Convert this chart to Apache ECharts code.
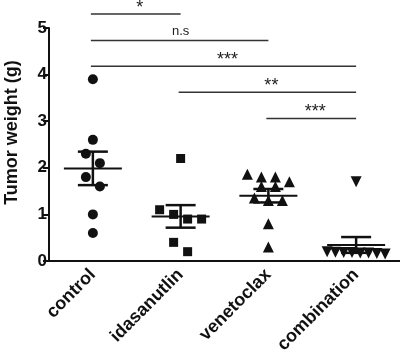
<!DOCTYPE html>
<html>
<head>
<meta charset="utf-8">
<script src="https://cdn.jsdelivr.net/npm/echarts@6/dist/echarts.min.js"></script>
<style>
  html, body { margin: 0; padding: 0; background: #fff; }
  #main { width: 400px; height: 356px; }
</style>
</head>
<body>
<div id="main"></div>
<script>
// groups on the x axis
const groups = ["control", "idasanutlin", "venetoclax", "combination"];

// tumor weight per mouse (g)
const control = [3.9, 2.6, 2.3, 2.1, 1.8, 1.6, 1.0, 0.6];
const idasanutlin = [2.2, 1.1, 1.0, 0.9, 0.9, 0.4, 0.2];
const venetoclax = [1.86, 1.8, 1.8, 1.7, 1.6, 1.6, 1.35, 1.3, 1.3, 0.8, 0.3];
const combination = [1.7, 0.2, 0.19, 0.18, 0.18, 0.17, 0.17, 0.16, 0.15];

const yTicks = [0, 1, 2, 3, 4, 5];

// significance brackets (from group, to group, height in g, label)
const sigFrom = [0, 0, 0, 1, 2];
const sigTo = [1, 2, 3, 3, 3];
const sigLevel = [5.3, 4.73, 4.18, 3.62, 3.06];
const sigLabel = ["*", "n.s", "***", "**", "***"];

const allGroups = [control, idasanutlin, venetoclax, combination];
const symbols = ["circle", "rect", "triangle", "triangle"];
const symbolSizes = [10, 9, 11, 11];
const symbolRotates = [0, 0, 0, 180];

const FONT = "Liberation Sans, Arial, sans-serif";

function mean(a) {
  return a.reduce((s, v) => s + v, 0) / a.length;
}
function sem(a) {
  const m = mean(a);
  const sd = Math.sqrt(a.reduce((s, v) => s + (v - m) * (v - m), 0) / (a.length - 1));
  return sd / Math.sqrt(a.length);
}

const statsData = allGroups.map((g, i) => [i, mean(g), sem(g)]);
const sigData = sigFrom.map((f, i) => [f, sigTo[i], sigLevel[i]]);

// mean line + SEM whiskers
function renderStats(params, api) {
  const i = api.value(0), m = api.value(1), s = api.value(2);
  const c = api.coord([i, m]);
  const hi = api.coord([i, m + s]);
  const lo = api.coord([i, m - s]);
  const st = { stroke: "#111", lineWidth: 2.5 };
  return {
    type: "group",
    children: [
      { type: "line", shape: { x1: c[0] - 29, y1: c[1], x2: c[0] + 29, y2: c[1] }, style: { stroke: "#111", lineWidth: 2 } },
      { type: "line", shape: { x1: c[0] - 15, y1: hi[1], x2: c[0] + 15, y2: hi[1] }, style: st },
      { type: "line", shape: { x1: c[0] - 15, y1: lo[1], x2: c[0] + 15, y2: lo[1] }, style: st },
      { type: "line", shape: { x1: c[0], y1: hi[1], x2: c[0], y2: lo[1] }, style: st }
    ]
  };
}

// significance bracket lines with label
function renderSig(params, api) {
  const a = api.coord([api.value(0), api.value(2)]);
  const b = api.coord([api.value(1), api.value(2)]);
  const label = sigLabel[params.dataIndex];
  const stars = label.indexOf("*") >= 0;
  return {
    type: "group",
    children: [
      { type: "line", shape: { x1: a[0] - 2, y1: a[1], x2: b[0], y2: b[1] }, style: { stroke: "#333", lineWidth: 1.5 } },
      {
        type: "text",
        x: (a[0] + b[0]) / 2 + (stars ? 3 : 0),
        y: a[1] + (stars ? 3 : -3),
        style: {
          text: label, fill: "#222",
          font: (stars ? "18px " : "13px ") + FONT,
          align: "center", verticalAlign: "bottom"
        }
      }
    ]
  };
}

function scatterSeries(offsets) {
  return allGroups.map((g, gi) => ({
    type: "scatter",
    symbol: symbols[gi],
    symbolSize: symbolSizes[gi],
    symbolRotate: symbolRotates[gi],
    itemStyle: { color: "#111", opacity: 1 },
    data: g.map((v, k) => ({
      value: [gi, v],
      symbolOffset: [offsets ? offsets[gi][k] : 0, 0]
    }))
  }));
}

const chart = echarts.init(document.getElementById("main"));

const option = {
  animation: false,
  backgroundColor: "#fff",
  grid: { left: 49, right: 0, top: 28, bottom: 95, outerBoundsMode: "none", containLabel: false },
  xAxis: {
    type: "category",
    data: groups,
    boundaryGap: true,
    axisLine: { lineStyle: { color: "#111", width: 2 } },
    axisTick: { alignWithLabel: true, length: 6, lineStyle: { color: "#111", width: 2 } },
    axisLabel: { rotate: 45, interval: 0, margin: 11, color: "#111", fontWeight: "bold", fontSize: 18, fontFamily: FONT }
  },
  yAxis: {
    type: "value",
    min: yTicks[0],
    max: yTicks[yTicks.length - 1],
    interval: 1,
    name: "Tumor weight (g)",
    nameLocation: "middle",
    nameGap: 28,
    nameTextStyle: { color: "#111", fontWeight: "bold", fontSize: 18, fontFamily: FONT, padding: [0, 0, 0, 24] },
    axisLine: { show: true, lineStyle: { color: "#111", width: 2 } },
    axisTick: { show: true, length: 6, lineStyle: { color: "#111", width: 2 } },
    splitLine: { show: false },
    axisLabel: { margin: 2, color: "#111", fontWeight: "bold", fontSize: 17, fontFamily: FONT }
  },
  series: scatterSeries(null).concat([
    { type: "custom", renderItem: renderStats, data: statsData, clip: false, z: 3 },
    { type: "custom", renderItem: renderSig, data: sigData, clip: false, z: 3 }
  ])
};

chart.setOption(option);

// simple GraphPad-like swarm: points within ~10px vertically share a row
function swarm(vals) {
  const py = vals.map(v => chart.convertToPixel({ yAxisIndex: 0 }, v));
  const order = vals.map((v, i) => i).sort((a, b) => vals[b] - vals[a]);
  const off = new Array(vals.length).fill(0);
  let row = [];
  const flush = () => {
    const n = row.length;
    const step = n > 1 ? Math.min(14, 58 / (n - 1)) : 0;
    row.forEach((idx, k) => { off[idx] = (k - (n - 1) / 2) * step; });
    row = [];
  };
  order.forEach(idx => {
    if (row.length && py[idx] - py[row[0]] > 10) flush();
    row.push(idx);
  });
  flush();
  return off;
}

const offsets = allGroups.map(g => swarm(g));
option.series = scatterSeries(offsets).concat(option.series.slice(allGroups.length));
chart.setOption(option, true);

window.addEventListener("resize", () => chart.resize());
</script>
</body>
</html>
